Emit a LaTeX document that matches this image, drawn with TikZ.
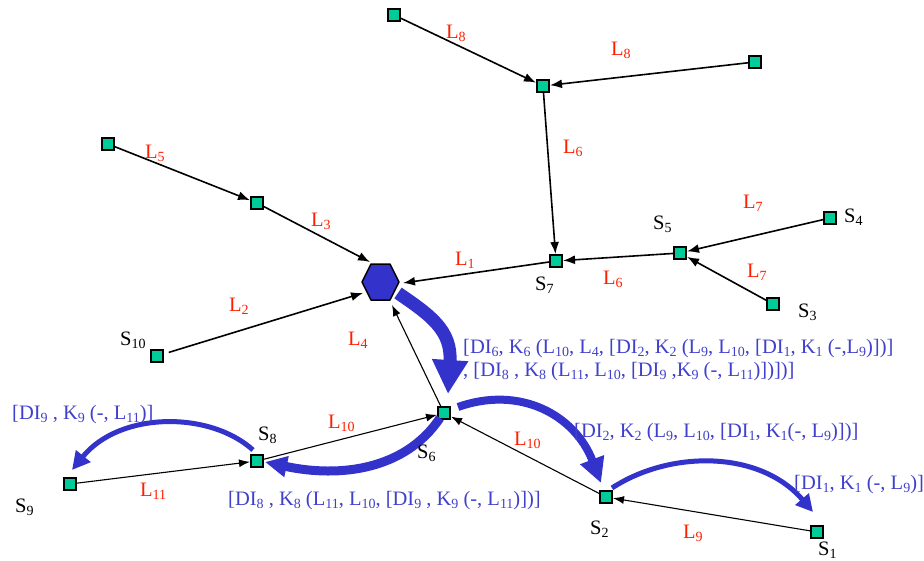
\documentclass[tikz,border=0pt]{standalone}
\usepackage{fontspec}
\setmainfont{Liberation Serif}
\usetikzlibrary{arrows.meta}
\definecolor{sq}{RGB}{0,204,153}
\definecolor{hexb}{RGB}{51,51,204}
\definecolor{bt}{RGB}{64,64,204}
\definecolor{lred}{RGB}{255,30,0}
\newcommand\lsb[1]{\raisebox{-3.8pt}{\fontsize{14}{14}\selectfont #1}}
\begin{document}
\begin{tikzpicture}[x=1pt,y=-1pt,
  sqnode/.style={draw=black, line width=1.3pt, fill=sq, minimum size=12pt, inner sep=0pt, outer sep=1pt},
  hubarea/.style={circle, minimum size=38pt, inner sep=0pt},
  hexfill/.style={draw=black, line width=1.5pt, fill=hexb, line join=round},
  lnk/.style={line width=1.6pt, -{Latex[length=12pt,width=9pt]}},
  lnkthin/.style={line width=1.1pt, -{Latex[length=11pt,width=8pt]}},
  lab/.style={text=lred, font=\fontsize{20.5}{20.5}\selectfont, anchor=base west, inner sep=0pt},
  slab/.style={text=black, font=\fontsize{20.5}{20.5}\selectfont, anchor=base west, inner sep=0pt},
  btxt/.style={text=bt, font=\fontsize{20.5}{20.5}\selectfont, anchor=base west, inner sep=0pt},
  flow/.style={draw=hexb}
]
\useasboundingbox (0,0) rectangle (924,560);
% nodes
\node[sqnode] (a) at (394,15) {};
\node[sqnode] (b) at (543,86) {};
\node[sqnode] (c) at (755,62) {};
\node[sqnode] (d) at (108,144) {};
\node[sqnode] (e) at (257,203) {};
\node[hubarea] (hub) at (380.5,282) {};
\draw[hexfill] ([shift={(-18.5,0)}]hub.center) -- ([shift={(-9.5,-18)}]hub.center) -- ([shift={(9.5,-18)}]hub.center) -- ([shift={(18.5,0)}]hub.center) -- ([shift={(9.5,18)}]hub.center) -- ([shift={(-9.5,18)}]hub.center) -- cycle;
\node[sqnode] (s10) at (157,356) {};
\node[sqnode] (s7) at (556,261) {};
\node[sqnode] (s5) at (680,253) {};
\node[sqnode] (s4) at (830,218) {};
\node[sqnode] (s3) at (773,304) {};
\node[sqnode] (s6) at (444,413) {};
\node[sqnode] (s8) at (257,461) {};
\node[sqnode] (s9) at (70,484) {};
\node[sqnode] (s2) at (606,497) {};
\node[sqnode] (s1) at (817,532) {};
% black links
\draw[lnk] (a) -- (b);
\draw[lnk] (c) -- (b);
\draw[lnk] (b) -- (s7);
\draw[lnk] (d) -- (e);
\draw[lnk] (e) -- ([shift={(-10.5,-20)}]hub.center);
\draw[lnk, shorten <=5pt] (s10) -- ([shift={(-17.5,11)}]hub.center);
\draw[lnk] (s7) -- ([shift={(22.5,1)}]hub.center);
\draw[lnk] (s5) -- (s7);
\draw[lnk] (s4) -- (s5);
\draw[lnk] (s3) -- (s5);
\draw[lnkthin] (s6) -- ([shift={(11.5,23)}]hub.center);
\draw[lnkthin] (s8) -- (s6);
\draw[lnkthin] (s9) -- (s8);
\draw[lnkthin] (s2) -- (s6);
\draw[lnkthin] (s1) -- (s2);
% blue flows
\draw[flow, line width=13pt, -{Triangle[length=34pt,width=34pt]}] ([shift={(17.5,11)}]hub.center) .. controls (430,315) and (452,330) .. ([shift={(4,-19)}]s6.center);
\draw[flow, line width=9pt, -{Triangle[length=22pt,width=20pt]}] ([shift={(-4,5)}]s6.center) .. controls (405,470) and (340,478) .. ([shift={(8,1)}]s8.center);
\draw[flow, line width=8pt, -{Triangle[length=25pt,width=24pt]}] ([shift={(14,-6)}]s6.center) .. controls (520,385) and (575,415) .. ([shift={(-5,-14)}]s2.center);
\draw[flow, line width=5pt, -{Triangle[length=17pt,width=17pt]}] ([shift={(6,-9)}]s2.center) .. controls (670,450) and (760,450) .. ([shift={(-4,-20)}]s1.center);
\draw[flow, line width=5pt, -{Triangle[length=18pt,width=18pt]}] ([shift={(-4,-11)}]s8.center) .. controls (210,411) and (120,411) .. ([shift={(2,-14)}]s9.center);
% red link labels
\node[lab] (tl8a) at (446,38) {L\lsb{8}};
\node[lab] (tl8b) at (611,55) {L\lsb{8}};
\node[lab] (tl6a) at (563,153) {L\lsb{6}};
\node[lab] (tl5) at (145,158) {L\lsb{5}};
\node[lab] (tl3) at (311,226) {L\lsb{3}};
\node[lab] (tl2) at (229,311) {L\lsb{2}};
\node[lab] (tl1) at (455,265) {L\lsb{1}};
\node[lab] (tl6b) at (603,284) {L\lsb{6}};
\node[lab] (tl7a) at (743,208) {L\lsb{7}};
\node[lab] (tl7b) at (747,277) {L\lsb{7}};
\node[lab] (tl4) at (348,345) {L\lsb{4}};
\node[lab] (tl10a) at (328,428) {L\lsb{10}};
\node[lab] (tl11) at (140,496) {L\lsb{11}};
\node[lab] (tl10b) at (514,445) {L\lsb{10}};
\node[lab] (tl9) at (683,538) {L\lsb{9}};
% station labels
\node[slab] (ts5) at (653,229) {S\lsb{5}};
\node[slab] (ts4) at (844,222) {S\lsb{4}};
\node[slab] (ts7) at (535,290) {S\lsb{7}};
\node[slab] (ts3) at (798,317) {S\lsb{3}};
\node[slab] (ts10) at (120,345) {S\lsb{10}};
\node[slab] (ts8) at (258,440) {S\lsb{8}};
\node[slab] (ts6) at (417,458) {S\lsb{6}};
\node[slab] (ts9) at (15,512) {S\lsb{9}};
\node[slab] (ts2) at (590,534) {S\lsb{2}};
\node[slab] (ts1) at (818,555) {S\lsb{1}};
% blue texts
\node[btxt] (bt1a) at (463,353) {[DI\lsb{6}, K\lsb{6} (L\lsb{10}, L\lsb{4}, [DI\lsb{2}, K\lsb{2} (L\lsb{9}, L\lsb{10}, [DI\lsb{1}, K\lsb{1} (-,L\lsb{9})])]};
\node[btxt] (bt1b) at (463,376) {, [DI\lsb{8} , K\lsb{8} (L\lsb{11}, L\lsb{10}, [DI\lsb{9} ,K\lsb{9} (-, L\lsb{11})])])]};
\node[btxt] (bt2) at (12,419) {[DI\lsb{9} , K\lsb{9} (-, L\lsb{11})]};
\node[btxt] (bt3) at (228,505) {[DI\lsb{8} , K\lsb{8} (L\lsb{11}, L\lsb{10}, [DI\lsb{9} , K\lsb{9} (-, L\lsb{11})])]};
\node[btxt] (bt4) at (574,437) {[DI\lsb{2}, K\lsb{2} (L\lsb{9}, L\lsb{10}, [DI\lsb{1}, K\lsb{1}(-, L\lsb{9})])]};
\node[btxt] (bt5) at (794,489) {[DI\lsb{1}, K\lsb{1} (-, L\lsb{9})]};
\end{tikzpicture}
\end{document}
